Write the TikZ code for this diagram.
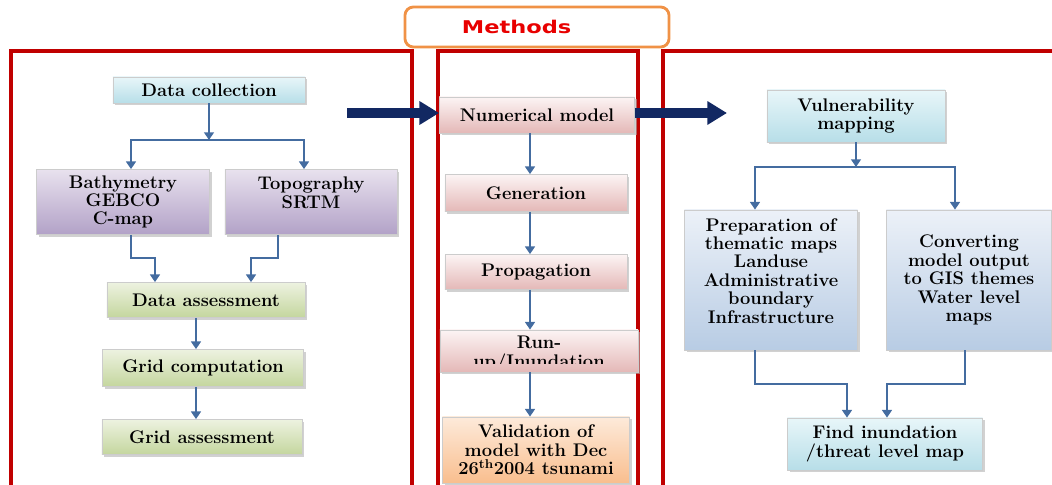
\documentclass[tikz,border=0pt]{standalone}
\usepackage{fontspec}
\newfontfamily\headfont{DejaVu Sans}
\usetikzlibrary{arrows.meta,positioning,calc,shadows}
\definecolor{clrFrame}{RGB}{192,0,0}
\definecolor{clrHead}{RGB}{240,146,70}
\definecolor{clrHeadText}{RGB}{232,0,0}
\definecolor{clrNavy}{RGB}{18,40,98}
\definecolor{clrLink}{RGB}{68,108,160}
\definecolor{clrCyanA}{RGB}{232,246,249}
\definecolor{clrCyanB}{RGB}{183,222,232}
\definecolor{clrPurpA}{RGB}{232,226,238}
\definecolor{clrPurpB}{RGB}{178,161,199}
\definecolor{clrGrnA}{RGB}{237,242,224}
\definecolor{clrGrnB}{RGB}{196,214,158}
\definecolor{clrPnkA}{RGB}{252,244,244}
\definecolor{clrPnkB}{RGB}{228,184,183}
\definecolor{clrOrA}{RGB}{253,234,218}
\definecolor{clrOrB}{RGB}{249,190,142}
\definecolor{clrBluA}{RGB}{236,241,248}
\definecolor{clrBluB}{RGB}{184,204,228}
\tikzset{
  box/.style={rectangle,draw=gray!40,line width=0.5pt,
    font=\fontsize{13}{13.1}\selectfont\bfseries,align=center,inner sep=2pt,
    drop shadow={shadow xshift=1.6pt,shadow yshift=-1.6pt,fill=black!30,opacity=0.6}},
  boxtext/.style={font=\fontsize{13}{13.1}\selectfont\bfseries,align=center,inner sep=0pt},
  boxC/.style={box,top color=clrCyanA,bottom color=clrCyanB},
  boxP/.style={box,top color=clrPurpA,bottom color=clrPurpB},
  boxG/.style={box,top color=clrGrnA,bottom color=clrGrnB},
  boxR/.style={box,top color=clrPnkA,bottom color=clrPnkB},
  boxO/.style={box,top color=clrOrA,bottom color=clrOrB},
  boxB/.style={box,top color=clrBluA,bottom color=clrBluB},
  link/.style={-{Triangle[length=5.5pt,width=7pt]},line width=1.6pt,color=clrLink},
  feed/.style={-{Triangle[length=14pt,width=16pt]},line width=7pt,color=clrNavy},
  frame/.style={draw=clrFrame,line width=2.2pt},
  head/.style={rectangle,rounded corners=6pt,draw=clrHead,line width=2pt,fill=white,
    minimum width=6.6cm,minimum height=1cm,text=clrHeadText,
    font=\headfont\bfseries\fontsize{12.5}{14}\selectfont}
}
\begin{document}
\begin{tikzpicture}[x=0.025cm,y=-0.025cm]
  \useasboundingbox (0,0) rectangle (1052,485);

  % panels
  \draw[frame] (11,51) rectangle (412,495);
  \draw[frame] (438,51) rectangle (638,495);
  \draw[frame] (663,51) rectangle (1070,495);
  \node[head] (methods) at (537,27) {\scalebox{1.28}[1]{Methods}\hspace*{29pt}};

  % data preparation
  \node[boxC,minimum width=4.8cm,minimum height=0.65cm] (collect) at (209,90)
    {Data collection};
  \node[boxP,minimum width=4.325cm,minimum height=1.625cm] (bathy) at (123,202)
    {Bathymetry\\GEBCO\\C-map};
  \node[boxP,minimum width=4.3cm,minimum height=1.625cm] (topo) at (311,202)
    {Topography\\SRTM\\\mbox{}};
  \node[boxG,minimum width=4.95cm,minimum height=0.875cm] (dassess) at (206,300)
    {Data assessment};
  \node[boxG,minimum width=5.025cm,minimum height=0.925cm] (gridcomp) at (203,368)
    {Grid computation};
  \node[boxG,minimum width=5cm,minimum height=0.875cm] (gridassess) at (202,437)
    {Grid assessment};

  % model
  \node[boxR,minimum width=4.875cm,minimum height=0.9cm] (nummodel) at (537,115)
    {Numerical model};
  \node[boxR,minimum width=4.55cm,minimum height=0.925cm] (generation) at (536,193)
    {Generation};
  \node[boxR,minimum width=4.55cm,minimum height=0.875cm] (propagation) at (536,272)
    {Propagation};
  \node[boxR,minimum width=4.95cm,minimum height=1.05cm] (runup) at (539,351) {};
  \begin{scope}
    \clip ([yshift=6pt]runup.south west) rectangle (runup.north east);
    \node[boxtext] (runuptext) at ([yshift=-2pt]runup.center) {Run-\\up/Inundation};
  \end{scope}
  \node[boxO,minimum width=4.675cm,minimum height=1.65cm] (validation) at (536,450)
    {Validation of\\model with Dec\\26\textsuperscript{th}2004 tsunami};

  % vulnerability
  \node[boxC,minimum width=4.45cm,minimum height=1.3cm] (vulner) at (856,116)
    {Vulnerability\\mapping};
  \node[boxB,minimum width=4.325cm,minimum height=3.5cm] (prep) at (771,280)
    {Preparation of\\thematic maps\\Landuse\\Administrative\\boundary\\Infrastructure\\\mbox{}};
  \node[boxB,minimum width=4.125cm,minimum height=3.5cm] (convert) at (969,280)
    {Converting\\model output\\to GIS themes\\Water level\\maps};
  \node[boxC,minimum width=4.875cm,minimum height=1.3cm] (find) at (885,444)
    {Find inundation\\/threat level map};

  \coordinate (cfork) at (209,140);
  \coordinate (leftline) at (196,0);
  \coordinate (midline) at (530,0);
  \coordinate (vfork) at (856,167);
  \coordinate (feedL) at (347,113);
  \coordinate (feedR) at (727,113);

  \draw[link] (collect) -- (cfork);
  \draw[link] (cfork) -| ([xshift=0.2cm]bathy.north);
  \draw[link] (cfork) -| ([xshift=-0.175cm]topo.north);
  \draw[link] ([xshift=0.2cm]bathy.south) -- ++(0,23) -| ([xshift=-1.275cm]dassess.north);
  \draw[link] ([xshift=-0.825cm]topo.south) -- ++(0,23) -| ([xshift=1.125cm]dassess.north);
  \draw[link] (leftline |- dassess.south) -- (leftline |- gridcomp.north);
  \draw[link] (leftline |- gridcomp.south) -- (leftline |- gridassess.north);

  \draw[link] (midline |- nummodel.south) -- (midline |- generation.north);
  \draw[link] (midline |- generation.south) -- (midline |- propagation.north);
  \draw[link] (midline |- propagation.south) -- (midline |- runup.north);
  \draw[link] (midline |- runup.south) -- (midline |- validation.north);

  \draw[link] (vulner) -- (vfork);
  \draw[link] (vfork) -| ([xshift=-0.4cm]prep.north);
  \draw[link] (vfork) -| ([xshift=-0.35cm]convert.north);
  \draw[link] ([xshift=-0.4cm]prep.south) -- ++(0,34) -| ([xshift=-0.95cm]find.north);
  \draw[link] ([xshift=-0.1cm]convert.south) -- ++(0,34) -| ([xshift=0.05cm]find.north);

  \draw[feed] (feedL) -- (feedL -| nummodel.west);
  \draw[feed] (nummodel.east |- feedR) -- (feedR);
\end{tikzpicture}
\end{document}
